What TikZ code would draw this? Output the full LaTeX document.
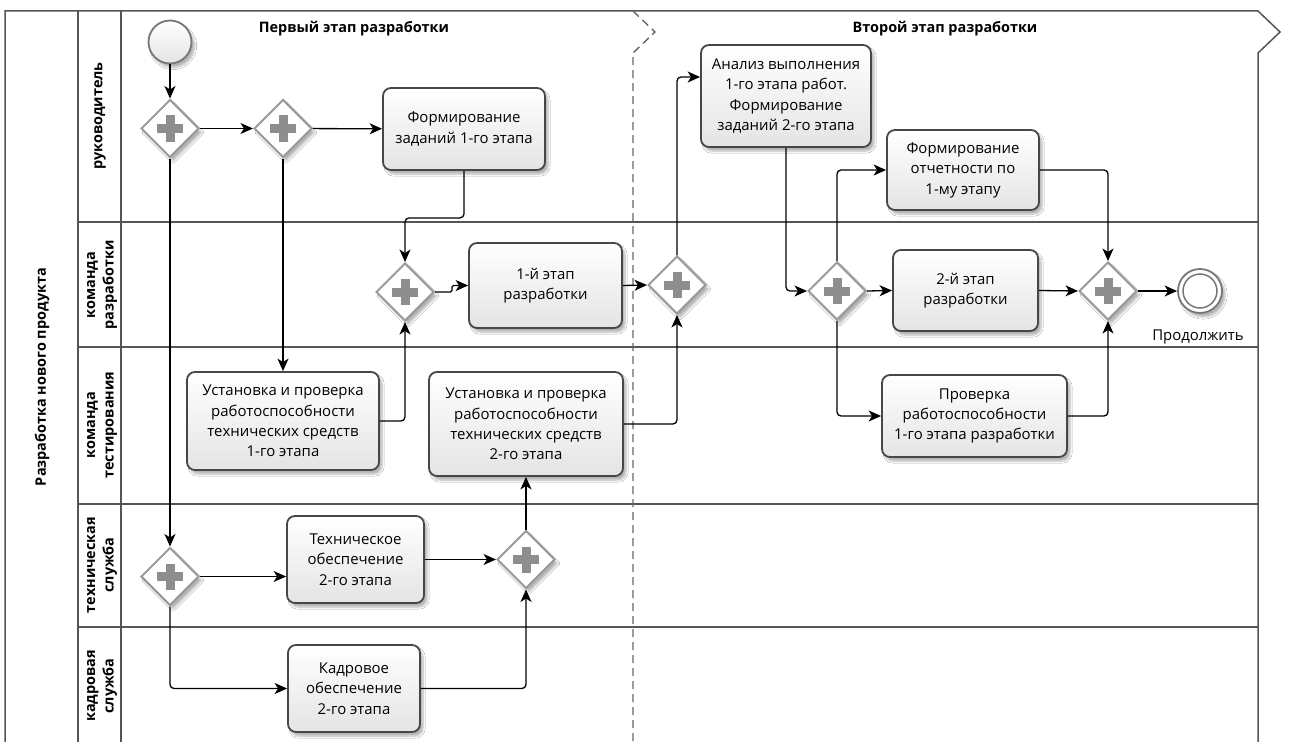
\documentclass[tikz,border=0pt]{standalone}
\usepackage{fontspec}
\setmainfont{Open Sans}
\usetikzlibrary{shapes.geometric,arrows.meta,shadows.blur,calc}

\definecolor{laneline}{HTML}{555555}
\definecolor{taskborder}{HTML}{474747}
\definecolor{taskfill}{HTML}{E4E4E4}
\definecolor{gateborder}{HTML}{9A9A9A}
\definecolor{plusgrey}{HTML}{8E8E8E}
\definecolor{eventborder}{HTML}{777777}

\newcommand\tasktext{\fontsize{15}{20.5}\selectfont}
\newcommand\lanetext{\fontsize{14.5}{18.5}\selectfont\bfseries}

\tikzset{
  lane/.style={draw=laneline, line width=1.5bp},
  phaseline/.style={draw=laneline!90, line width=1.4bp, dash pattern=on 8bp off 5bp},
  softshadow/.style={blur shadow={shadow xshift=3bp, shadow yshift=-4bp,
      shadow blur steps=6, shadow opacity=30}},
  task/.style={draw=taskborder, line width=1.8bp, rounded corners=8bp,
      top color=white, bottom color=taskfill, align=center, font=\tasktext,
      inner sep=0pt, softshadow},
  gate/.style={diamond, aspect=1, draw=gateborder, line width=2bp, fill=white,
      minimum width=58bp, minimum height=58bp, inner sep=0pt, softshadow,
      path picture={
        \fill[plusgrey] ([xshift=-13bp,yshift=-4.5bp]path picture bounding box.center)
          rectangle ([xshift=13bp,yshift=4.5bp]path picture bounding box.center);
        \fill[plusgrey] ([xshift=-4.5bp,yshift=-13bp]path picture bounding box.center)
          rectangle ([xshift=4.5bp,yshift=13bp]path picture bounding box.center);}},
  flow/.style={draw=black, line width=1.3bp, rounded corners=4bp,
      -{Stealth[length=12.5bp,width=11bp,inset=3.5bp]}},
  lanelabel/.style={rotate=90, align=center, font=\lanetext, inner sep=0pt},
  phasetitle/.style={font=\fontsize{14.5}{17}\selectfont\bfseries},
}

\begin{document}
\begin{tikzpicture}[x=1bp,y=-1bp]
\useasboundingbox (0,0) rectangle (1293,742);
\fill[white] (0,0) rectangle (1293,742);

% pool frame, lane header columns and lane borders
\draw[lane] (5,742) -- (5,11) -- (1258,11) -- (1280,32) -- (1258,53) -- (1258,742);
\draw[lane] (78,11) -- (78,742);
\draw[lane] (121,11) -- (121,742);
\foreach \yy in {222,347,504,627}
  \draw[lane] (78,\yy) -- (1258,\yy);

% boundary between the two phases
\draw[phaseline] (633,11) -- (655,32) -- (633,53) -- (633,742);

% pool and lane titles
\node[lanelabel, font=\fontsize{14.5}{18}\selectfont\bfseries] (pool) at (42,377) {Разработка нового продукта};
\node[lanelabel] (lane1) at (100,116) {руководитель};
\node[lanelabel] (lane2) at (102,285) {команда\\разработки};
\node[lanelabel] (lane3) at (102,425) {команда\\тестирования};
\node[lanelabel] (lane4) at (102,565) {техническая\\служба};
\node[lanelabel] (lane5) at (102,686) {кадровая\\служба};

% phase titles
\node[phasetitle] (ph1) at (354,29) {Первый этап разработки};
\node[phasetitle] (ph2) at (945,29) {Второй этап разработки};

% events
\node[circle, draw=eventborder, line width=1.8bp, top color=white, bottom color=taskfill,
      minimum size=43bp, inner sep=0pt, softshadow] (start) at (170,42) {};
\node[circle, draw=eventborder, line width=1.8bp, fill=white,
      minimum size=44bp, inner sep=0pt, softshadow] (end) at (1200,291) {};
\node[circle, draw=eventborder, line width=1.5bp, minimum size=34bp, inner sep=0pt] (endin) at (1200,291) {};
\node[font=\tasktext] (endlbl) at (1198,337) {Продолжить};

% gateways
\node[gate] (g1) at (170,128.5) {};
\node[gate] (g2) at (283,128.5) {};
\node[gate] (g3) at (405,292) {};
\node[gate] (g4) at (677,285) {};
\node[gate] (g5) at (837,291) {};
\node[gate] (g6) at (1108,291) {};
\node[gate] (g7) at (170,576.5) {};
\node[gate] (g8) at (526,559.5) {};

% tasks
\node[task, minimum width=162bp, minimum height=82bp] (t1) at (464,129) {Формирование\\заданий 1-го этапа};
\node[task, minimum width=153bp, minimum height=85bp] (t2) at (545.5,285.5) {1-й этап\\разработки};
\node[task, minimum width=192bp, minimum height=98bp] (t3) at (283,421) {Установка и проверка\\работоспособности\\технических средств\\1-го этапа};
\node[task, minimum width=194bp, minimum height=104bp] (t4) at (526,424) {Установка и проверка\\работоспособности\\технических средств\\2-го этапа};
\node[task, minimum width=137bp, minimum height=87bp] (t5) at (355.5,559.5) {Техническое\\обеспечение\\2-го этапа};
\node[task, minimum width=132bp, minimum height=87bp] (t6) at (354,688.5) {Кадровое\\обеспечение\\2-го этапа};
\node[task, minimum width=170bp, minimum height=102bp] (t7) at (786,96) {Анализ выполнения\\1-го этапа работ.\\Формирование\\заданий 2-го этапа};
\node[task, minimum width=152bp, minimum height=80bp] (t8) at (963,170) {Формирование\\отчетности по\\1-му этапу};
\node[task, minimum width=145bp, minimum height=81bp] (t9) at (965.5,290.5) {2-й этап\\разработки};
\node[task, minimum width=185bp, minimum height=82bp] (t10) at (974.5,416) {Проверка\\работоспособности\\1-го этапа разработки};

% sequence flows, first phase
\draw[flow] (start) -- (g1);
\draw[flow] (g1) -- (g2);
\draw[flow] (g2) -- (t1);
\draw[flow] (t1.south) -- ++(0,47) -| (g3.north);
\draw[flow] (g2.south) -- (t3.north);
\draw[flow] (t3.east) -| (g3.south);
\draw[flow, rounded corners=1.5bp] (g3.east) -- ++(17,0) |- (t2.west);
\draw[flow] (t2.east) -- (g4.west);
\draw[flow] (t4.east) -| (g4.south);
\draw[flow] (g1.south) -- (g7.north);
\draw[flow] (g7.east) -- (g7.east -| t5.west);
\draw[flow] (g7.south) |- (t6.west);
\draw[flow] (t5.east) -- (g8.west);
\draw[flow] (t6.east) -| (g8.south);
\draw[flow] (g8.north) -- (t4.south);

% sequence flows, second phase
\draw[flow] (g4.north) |- ([yshift=19bp]t7.west);
\draw[flow] (t7.south) |- (g5.west);
\draw[flow] (g5.north) |- (t8.west);
\draw[flow] (g5.east) -- (t9.west);
\draw[flow] (g5.south) |- (t10.west);
\draw[flow] (t8.east) -| (g6.north);
\draw[flow] (t9.east) -- (g6.west);
\draw[flow] (t10.east) -| (g6.south);
\draw[flow] (g6.east) -- (end.west);
\end{tikzpicture}
\end{document}
